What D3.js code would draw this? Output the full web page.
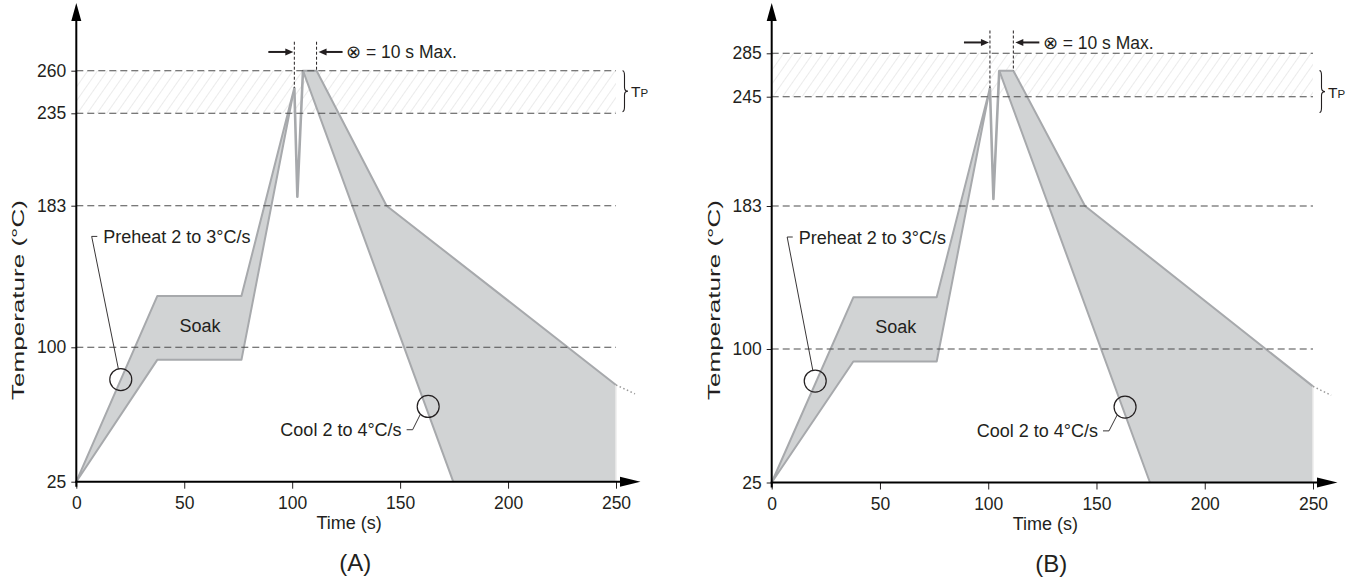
<!DOCTYPE html>
<html>
<head>
<meta charset="utf-8">
<script src="https://cdn.jsdelivr.net/npm/d3@7"></script>
<style>
  body { margin: 0; background: #fff; }
  svg text { font-family: "Liberation Sans", Arial, Helvetica, sans-serif; fill: #231f20; }
</style>
</head>
<body>
<div id="chart"></div>
<script>
// time ticks (s), shared by both panels
const timeTicks = [0, 50, 100, 150, 200, 250];

// temperature ticks (°C) and the hatched peak zone of each panel
const tempTicksA = [25, 100, 183, 235, 260];
const tempTicksB = [25, 100, 183, 245, 285];
const peakZoneA = [235, 260];
const peakZoneB = [245, 285];

// reflow envelope, [time s, temp °C]
const rampUpperA = [[0, 25], [37.5, 130], [76.5, 130], [101, 250]];
const rampLowerA = [[0, 25], [37.5, 93], [76.5, 93], [101, 250]];
const spikeA = [[101, 250], [102.4, 188], [105, 260]];
const coolA = [[105, 260], [111.3, 260], [143.7, 183], [250, 79], [250, 25], [174.6, 25]];
const tailA = [[250, 79], [258.8, 74]];

const rampUpperB = [[0, 25], [37.7, 130], [76.2, 130], [100.8, 253]];
const rampLowerB = [[0, 25], [37.7, 93], [76.2, 93], [100.8, 253]];
const spikeB = [[100.8, 253], [102.4, 187], [105.1, 269]];
const coolB = [[105.1, 269], [111.6, 269], [144.7, 183], [250, 79], [250, 25], [174.7, 25]];
const tailB = [[250, 79], [258.4, 74]];

// rate markers (circles) [time, temp]
const markersA = [[20.6, 82], [163, 67]];
const markersB = [[20.1, 82], [163.2, 67.4]];

// annotation anchors [time, temp]
const preheatLabel = [12.5, 165];
const coolLabel = [150.7, 54];
const soakLabel = [57.3, 113];

// T_P brace range and "10 s max" note heights (°C)
const braceA = [260, 236];
const braceB = [269, 236];
const noteA = [277, 271];
const noteB = [306, 295];

const FILL = "#d1d3d4";
const EDGE = "#a7a9ac";
const INK = "#231f20";

function drawPanel(svg, cfg) {
  const x = d3.scaleLinear().domain([0, 250]).range(cfg.xRange);
  // schematic axis: ticks are not evenly spaced
  const y = d3.scaleLinear().domain(cfg.tempTicks).range(cfg.yRange);
  const line = d3.line().x(d => x(d[0])).y(d => y(d[1]));
  const g = svg.append("g");

  const x0 = x(0), x1 = x(250), yb = y(25);

  // hatched peak zone
  g.append("rect")
    .attr("x", x0).attr("width", x1 - x0)
    .attr("y", y(cfg.zone[1])).attr("height", y(cfg.zone[0]) - y(cfg.zone[1]))
    .attr("fill", "url(#hatch)");

  // preheat / soak / ramp band
  const ramp = cfg.rampUpper.concat(cfg.rampLower.slice(1, -1).reverse());
  g.append("path")
    .attr("d", line(ramp) + "Z")
    .attr("fill", FILL).attr("stroke", EDGE).attr("stroke-width", 2)
    .attr("stroke-linejoin", "round");

  // cooling band
  g.append("path")
    .attr("d", line(cfg.cool) + "Z")
    .attr("fill", FILL);
  const c = cfg.cool;
  g.append("path")
    .attr("d", line([c[5], c[0], c[1], c[2], c[3]]))
    .attr("fill", "none").attr("stroke", EDGE).attr("stroke-width", 2)
    .attr("stroke-linejoin", "round");
  g.append("path")
    .attr("d", line([c[3], c[4]]))
    .attr("fill", "none").attr("stroke", "#ececec").attr("stroke-width", 1.5);

  // reflow spike
  g.append("path")
    .attr("d", line(cfg.spike))
    .attr("fill", "none").attr("stroke", EDGE).attr("stroke-width", 2.6)
    .attr("stroke-linejoin", "round");

  // dotted tail
  g.append("path")
    .attr("d", line(cfg.tail))
    .attr("fill", "none").attr("stroke", "#999").attr("stroke-width", 1.5)
    .attr("stroke-dasharray", "1.5,2.5");

  // dashed reference lines
  g.selectAll(".ref")
    .data(cfg.tempTicks.slice(1))
    .join("line")
    .attr("class", "ref")
    .attr("x1", x0).attr("x2", x1)
    .attr("y1", d => y(d)).attr("y2", d => y(d))
    .attr("stroke", "#4d4d4d").attr("stroke-width", 1.1)
    .attr("stroke-dasharray", "7,4");

  // rate markers
  g.selectAll(".marker")
    .data(cfg.markers)
    .join("circle")
    .attr("class", "marker")
    .attr("cx", d => x(d[0])).attr("cy", d => y(d[1])).attr("r", 11)
    .attr("fill", "none").attr("stroke", INK).attr("stroke-width", 1.2);

  // preheat label + leader
  const px = x(preheatLabel[0]), py = y(preheatLabel[1]);
  const m0 = cfg.markers[0];
  g.append("text").attr("x", px).attr("y", py + 6.5)
    .attr("font-size", 18).text("Preheat 2 to 3°C/s");
  g.append("path")
    .attr("d", d3.line()([[px - 6, py], [px - 11.6, py],
      [x(m0[0]) - 2.4, y(m0[1]) - 10.7]]))
    .attr("fill", "none").attr("stroke", INK).attr("stroke-width", 0.9);

  // cool label + leader
  const cx = x(coolLabel[0]), cy = y(coolLabel[1]);
  const m1 = cfg.markers[1];
  g.append("text").attr("x", cx).attr("y", cy + 6.5)
    .attr("text-anchor", "end").attr("font-size", 18).text("Cool 2 to 4°C/s");
  g.append("path")
    .attr("d", d3.line()([[cx + 5, cy], [cx + 11, cy],
      [x(m1[0]) - 7.8, y(m1[1]) + 7.8]]))
    .attr("fill", "none").attr("stroke", INK).attr("stroke-width", 0.9);

  // soak label
  g.append("text").attr("x", x(soakLabel[0])).attr("y", y(soakLabel[1]) + 6.5)
    .attr("text-anchor", "middle").attr("font-size", 18).text("Soak");

  // 10 s max note
  const xa = x(cfg.spike[0][0]), xb = x(c[1][0]);
  const yTop = y(cfg.note[0]), yArr = y(cfg.note[1]);
  g.append("line").attr("x1", xa).attr("x2", xa)
    .attr("y1", yTop).attr("y2", y(cfg.spike[0][1]))
    .attr("stroke", INK).attr("stroke-width", 1).attr("stroke-dasharray", "3,2");
  g.append("line").attr("x1", xb).attr("x2", xb)
    .attr("y1", yTop).attr("y2", y(c[1][1]))
    .attr("stroke", INK).attr("stroke-width", 1).attr("stroke-dasharray", "3,2");
  g.append("line").attr("x1", xa - 26).attr("x2", xa - 7)
    .attr("y1", yArr).attr("y2", yArr).attr("stroke", INK).attr("stroke-width", 2);
  g.append("path")
    .attr("d", d3.line()([[xa - 9, yArr - 3.5], [xa - 1, yArr], [xa - 9, yArr + 3.5]]) + "Z")
    .attr("fill", INK);
  g.append("line").attr("x1", xb + 8).attr("x2", xb + 26)
    .attr("y1", yArr).attr("y2", yArr).attr("stroke", INK).attr("stroke-width", 2);
  g.append("path")
    .attr("d", d3.line()([[xb + 10, yArr - 3.5], [xb + 2, yArr], [xb + 10, yArr + 3.5]]) + "Z")
    .attr("fill", INK);
  g.append("text").attr("x", xb + 29.5).attr("y", yArr + 6.5)
    .attr("font-size", 17.5).text("⊗ = 10 s Max.");

  // T_P brace
  const bx = x1 + 8.5, bt = y(cfg.brace[0]), bb = y(cfg.brace[1]), bm = (bt + bb) / 2;
  g.append("path")
    .attr("d", `M${bx - 2},${bt} Q${bx},${bt} ${bx},${bt + 5} L${bx},${bm - 4}` +
      ` Q${bx},${bm} ${bx + 3.5},${bm} Q${bx},${bm} ${bx},${bm + 4}` +
      ` L${bx},${bb - 5} Q${bx},${bb} ${bx - 2},${bb}`)
    .attr("fill", "none").attr("stroke", INK).attr("stroke-width", 1.1);
  const tp = g.append("text").attr("x", bx + 6.5).attr("y", bm + 6).attr("font-size", 15.5);
  tp.append("tspan").text("T");
  tp.append("tspan").attr("font-size", 11.5).text("P");

  // axes
  const ax = g.append("g")
    .attr("transform", `translate(0,${yb})`)
    .call(d3.axisBottom(x).tickValues(timeTicks).tickSize(7).tickSizeOuter(0).tickPadding(8));
  ax.select(".domain").remove();
  ax.selectAll("text").attr("font-size", 17.5).style("font-family", "inherit").attr("fill", INK);
  ax.selectAll("line").attr("stroke", INK);

  const ay = g.append("g")
    .attr("transform", `translate(${x0},0)`)
    .call(d3.axisLeft(y).tickValues(cfg.tempTicks).tickSize(5).tickSizeOuter(0).tickPadding(5));
  ay.select(".domain").remove();
  ay.selectAll("text").attr("font-size", 17.5).style("font-family", "inherit").attr("fill", INK);
  ay.selectAll("line").attr("stroke", INK);

  g.append("line").attr("x1", x0 - 1).attr("x2", x1 + 6).attr("y1", yb).attr("y2", yb)
    .attr("stroke", "#000").attr("stroke-width", 2);
  g.append("path")
    .attr("d", d3.line()([[x1 + 4, yb - 5], [x1 + 24.5, yb], [x1 + 4, yb + 5]]) + "Z")
    .attr("fill", "#000");
  g.append("line").attr("x1", x0).attr("x2", x0).attr("y1", yb + 5).attr("y2", 18)
    .attr("stroke", "#000").attr("stroke-width", 2);
  g.append("path")
    .attr("d", d3.line()([[x0 - 5, 21], [x0, 3], [x0 + 5, 21]]) + "Z")
    .attr("fill", "#000");

  // titles
  const mid = (x0 + x1) / 2;
  g.append("text").attr("x", mid + 3).attr("y", yb + 47)
    .attr("text-anchor", "middle").attr("font-size", 18).text("Time (s)");
  g.append("text").attr("x", mid + 9).attr("y", yb + 89)
    .attr("text-anchor", "middle").attr("font-size", 24).text(cfg.title);
  g.append("text")
    .attr("transform", `translate(${x0 - 58},300) rotate(-90)`)
    .attr("text-anchor", "middle").attr("dominant-baseline", "central")
    .attr("font-size", 16.5)
    .attr("textLength", 200).attr("lengthAdjust", "spacingAndGlyphs")
    .text("Temperature (°C)");
}

function main() {
  const svg = d3.select("#chart").append("svg")
    .attr("width", 1361).attr("height", 585)
    .style("display", "block");

  const pat = svg.append("defs").append("pattern")
    .attr("id", "hatch").attr("patternUnits", "userSpaceOnUse")
    .attr("width", 8).attr("height", 8)
    .attr("patternTransform", "rotate(35)");
  pat.append("line").attr("x1", 0).attr("x2", 0).attr("y1", 0).attr("y2", 8)
    .attr("stroke", "#d8d8d8").attr("stroke-width", 1);

  drawPanel(svg, {
    title: "(A)",
    xRange: [76.3, 616],
    tempTicks: tempTicksA,
    yRange: [481.7, 347.3, 205.7, 113.3, 70.7],
    zone: peakZoneA,
    rampUpper: rampUpperA, rampLower: rampLowerA,
    spike: spikeA, cool: coolA, tail: tailA,
    markers: markersA, brace: braceA, note: noteA
  });

  drawPanel(svg, {
    title: "(B)",
    xRange: [771.7, 1313],
    tempTicks: tempTicksB,
    yRange: [482.5, 349, 206, 96.7, 53.3],
    zone: peakZoneB,
    rampUpper: rampUpperB, rampLower: rampLowerB,
    spike: spikeB, cool: coolB, tail: tailB,
    markers: markersB, brace: braceB, note: noteB
  });
}

if (document.readyState === "loading") {
  document.addEventListener("DOMContentLoaded", main);
} else {
  main();
}
</script>
</body>
</html>
